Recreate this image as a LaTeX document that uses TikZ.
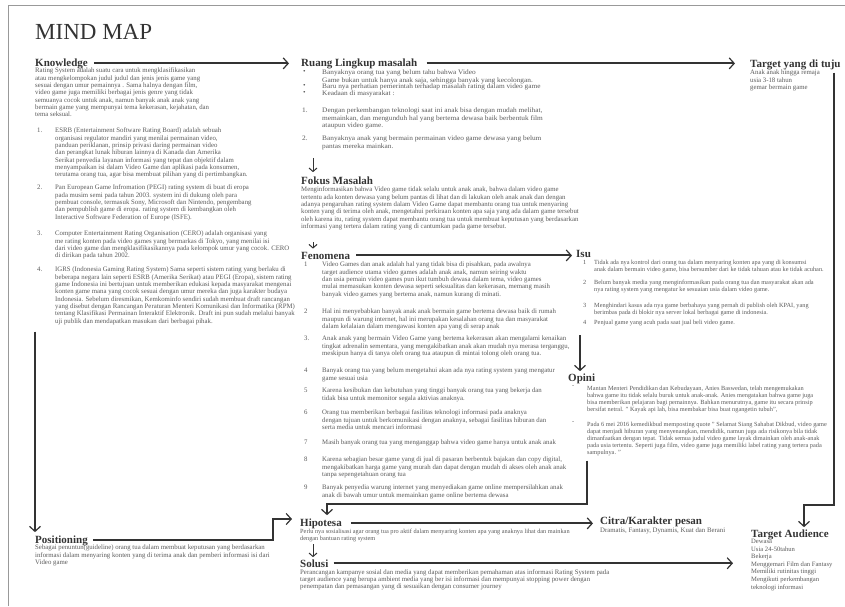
\documentclass[tikz,border=0pt]{standalone}
\usepackage{fontspec}
\setmainfont{Liberation Serif}
\newfontfamily\widebody[FakeStretch=1.08]{Liberation Serif}
\usepackage{tikz}
\usetikzlibrary{arrows.meta}
\definecolor{inkgray}{rgb}{0.2,0.2,0.2}
\definecolor{textgray}{rgb}{0.35,0.35,0.35}
\definecolor{framegray}{rgb}{0.6,0.6,0.6}
\tikzset{
    heading/.style={anchor=base west, inner sep=0pt, text=inkgray,
        font=\bfseries\fontsize{11}{12}\selectfont},
    bodytext/.style={anchor=north west, inner sep=0pt, align=left, text=textgray,
        font=\fontsize{6.8}{7.3}\selectfont},
    numtext/.style={anchor=north west, inner sep=0pt, text=textgray,
        font=\fontsize{6.8}{7.3}\selectfont},
    widetext/.style={font=\widebody\fontsize{6.8}{7.2}\selectfont},
    narrowtext/.style={font=\fontsize{6.3}{7.1}\selectfont},
    flow/.style={draw=inkgray, line width=2pt,
        -{Straight Barb[length=5pt,width=11pt,line width=1.2pt]}},
    thinflow/.style={draw=inkgray, line width=1pt,
        -{Straight Barb[length=3.5pt,width=8pt]}}
}
% one numbered (or bulleted) entry: [style], name, x of number, x of text, y, number, text
\newcommand{\mmitem}[7][]{
    \node[numtext,#1] at (#3,#5) {#6};
    \node[bodytext,#1] (#2) at (#4,#5) {#7};
}

\begin{document}
\begin{tikzpicture}[x=1pt,y=-1pt]
    \useasboundingbox (0,0) rectangle (845,606);
    % page frame
    \draw[framegray, line width=0.8pt] (8,606) -- (8,5) -- (845,5);

    \node[anchor=base west, inner sep=0pt, text=inkgray, font=\fontsize{23}{26}\selectfont]
        (title) at (35,39) {MIND MAP};

    % Knowledge
    \node[heading] (kn) at (35,66) {Knowledge};
    \node[bodytext] (knpara) at (35,68) {Rating System adalah suatu cara untuk mengklasifikasikan\\
        atau mengkelompokan judul judul dan jenis jenis game yang\\
        sesuai dengan umur pemainnya . Sama halnya dengan film,\\
        video game juga memiliki berbagai jenis genre yang tidak\\
        semuanya cocok untuk anak, namun banyak anak anak yang\\
        bermain game yang mempunyai tema kekerasan, kejahatan, dan\\
        tema seksual.};
    \mmitem{k1}{37}{55}{128}{1.}{ESRB (Entertainment Software Rating Board) adalah sebuah\\
        organisasi regulator mandiri yang menilai permainan video,\\
        panduan periklanan, prinsip privasi daring permainan video\\
        dan perangkat lunak hiburan lainnya di Kanada dan Amerika\\
        Serikat penyedia layanan informasi yang tepat dan objektif dalam\\
        menyampaikan isi dalam Video Game dan aplikasi pada konsumen,\\
        terutama orang tua, agar bisa membuat pilihan yang di pertimbangkan.}
    \mmitem{k2}{37}{55}{185}{2.}{Pan European Game Infromation (PEGI) rating system di buat di eropa\\
        pada musim semi pada tahun 2003. system ini di dukung oleh para\\
        pembuat console, termasuk Sony, Microsoft dan Nintendo, pengembang\\
        dan pempublish game di eropa. rating system di kembangkan oleh\\
        Interactive Software Federation of Europe (ISFE).}
    \mmitem{k3}{37}{55}{231}{3.}{Computer Entertainment Rating Organisation (CERO) adalah organisasi yang\\
        me rating konten pada video games yang bermarkas di Tokyo, yang menilai isi\\
        dari video game dan mengklasifikasikannya pada kelompok umur yang cocok. CERO\\
        di dirikan pada tahun 2002.}
    \mmitem{k4}{37}{55}{267}{4.}{IGRS (Indonesia Gaming Rating System) Sama seperti sistem rating yang berlaku di\\
        beberapa negara lain seperti ESRB (Amerika Serikat) atau PEGI (Eropa), sistem rating\\
        game Indonesia ini bertujuan untuk memberikan edukasi kepada masyarakat mengenai\\
        konten game mana yang cocok sesuai dengan umur mereka dan juga karakter budaya\\
        Indonesia. Sebelum diresmikan, Kemkominfo sendiri sudah membuat draft rancangan\\
        yang disebut dengan Rancangan Peraturan Menteri Komunikasi dan Informatika (RPM)\\
        tentang Klasifikasi Permainan Interaktif Elektronik. Draft ini pun sudah melalui banyak\\
        uji publik dan mendapatkan masukan dari berbagai pihak.}

    % Positioning
    \node[heading] (pos) at (35,543) {Positioning};
    \node[bodytext] (pospara) at (35,545) {Sebagai penuntun(guideline) orang tua dalam membuat keputusan yang berdasarkan\\
        informasi dalam menyaring konten yang di terima anak dan pemberi informasi isi dari\\
        Video game};

    % Ruang Lingkup masalah
    \node[heading] (ruang) at (301,66) {Ruang Lingkup masalah};
    \mmitem[widetext]{ru1}{303}{322}{70}{•}{Banyaknya orang tua yang belum tahu bahwa Video\\
        Game bukan untuk hanya anak saja, sehingga banyak yang kecolongan.}
    \mmitem[widetext]{ru2}{303}{322}{84}{•}{Baru nya perhatian pemerintah terhadap masalah rating dalam video game}
    \mmitem[widetext]{ru3}{303}{322}{91}{•}{Keadaan di masyarakat :}
    \mmitem[widetext]{ru4}{302}{322}{108}{1.}{Dengan perkembangan teknologi saat ini anak bisa dengan mudah melihat,\\
        memainkan, dan mengunduh hal yang bertema dewasa baik berbentuk film\\
        ataupun video game.}
    \mmitem[widetext]{ru5}{302}{322}{136}{2.}{Banyaknya anak yang bermain permainan video game dewasa yang belum\\
        pantas mereka mainkan.}

    % Fokus Masalah
    \node[heading] (fokus) at (301,184) {Fokus Masalah};
    \node[bodytext] (fokpara) at (301,187) {Menginformasikan bahwa Video game tidak selalu untuk anak anak, bahwa dalam video game\\
        tertentu ada konten dewasa yang belum pantas di lihat dan di lakukan oleh anak anak dan dengan\\
        adanya pengaruhan rating system dalam Video Game dapat membantu orang tua untuk menyaring\\
        konten yang di terima oleh anak, mengetahui perkiraan konten apa saja yang ada dalam game tersebut\\
        oleh karena itu, rating system dapat membantu orang tua untuk membuat keputusan yang berdasarkan\\
        informasi yang tertera dalam rating yang di cantumkan pada game tersebut.};

    % Fenomena
    \node[heading] (fen) at (301,259) {Fenomena};
    \mmitem{f1}{304}{322}{262}{1}{Video Games dan anak adalah hal yang tidak bisa di pisahkan, pada awalnya\\
        target audience utama video games adalah anak anak, namun seiring waktu\\
        dan usia pemain video games pun ikut tumbuh dewasa dalam tema, video games\\
        mulai memasukan konten dewasa seperti seksualitas dan kekerasan, memang masih\\
        banyak video games yang bertema anak, namun kurang di minati.}
    \mmitem{f2}{304}{322}{309}{2}{Hal ini menyebabkan banyak anak anak bermain game bertema dewasa baik di rumah\\
        maupun di warung internet, hal ini merupakan kesalahan orang tua dan masyarakat\\
        dalam kelalaian dalam mengawasi konten apa yang di serap anak}
    \mmitem{f3}{304}{322}{336}{3.}{Anak anak yang bermain Video Game yang bertema kekerasan akan mengalami kenaikan\\
        tingkat adrenalin sementara, yang mengakibatkan anak akan mudah nya merasa terganggu,\\
        meskipun hanya di tanya oleh orang tua ataupun di mintai tolong oleh orang tua.}
    \mmitem{f4}{304}{322}{368}{4}{Banyak orang tua yang belum mengetahui akan ada nya rating system yang mengatur\\
        game sesuai usia}
    \mmitem{f5}{304}{322}{388}{5}{Karena kesibukan dan kebutuhan yang tinggi banyak orang tua yang bekerja dan\\
        tidak bisa untuk memonitor segala aktivias anaknya.}
    \mmitem{f6}{304}{322}{410}{6}{Orang tua memberikan berbagai fasilitas teknologi informasi pada anaknya\\
        dengan tujuan untuk berkomunikasi dengan anaknya, sebagai fasilitas hiburan dan\\
        serta media untuk mencari informasi}
    \mmitem{f7}{304}{322}{440}{7}{Masih banyak orang tua yang menganggap bahwa video game hanya untuk anak anak}
    \mmitem{f8}{304}{322}{457}{8}{Karena sebagian besar game yang di jual di pasaran berbentuk bajakan dan copy digital,\\
        mengakibatkan harga game yang murah dan dapat dengan mudah di akses oleh anak anak\\
        tanpa sepengetahuan orang tua}
    \mmitem{f9}{304}{322}{485}{9}{Banyak penyedia warung internet yang menyediakan game online mempersilahkan anak\\
        anak di bawah umur untuk memainkan game online bertema dewasa}

    % Hipotesa and Solusi
    \node[heading] (hip) at (300,526) {Hipotesa};
    \node[bodytext,narrowtext] (hippara) at (300,529) {Perlu nya sosialisasi agar orang tua pro aktif dalam menyaring konten apa yang anaknya lihat dan mainkan\\
        dengan bantuan rating system};
    \node[heading] (sol) at (300,567) {Solusi};
    \node[bodytext] (solpara) at (300,569) {Perancangan kampanye sosial dan media yang dapat memberikan pemahaman atas informasi Rating System pada\\
        target audience yang berupa ambient media yang ber isi informasi dan mempunyai stopping power dengan\\
        penempatan dan pemasangan yang di sesuaikan dengan consumer journey};

    % Target yang di tuju
    \node[heading] (tgt) at (750,67) {Target yang di tuju};
    \node[bodytext] (tgtpara) at (750,70) {Anak anak hingga remaja\\
        usia 3-18 tahun\\
        gemar bermain game};

    % Isu
    \node[heading] (isu) at (576,257) {Isu};
    \mmitem[narrowtext]{i1}{583}{594}{260}{1}{Tidak ada nya kontrol dari orang tua dalam menyaring konten apa yang di konsumsi\\
        anak dalam bermain video game, bisa bersumber dari ke tidak tahuan atau ke tidak acuhan.}
    \mmitem[narrowtext]{i2}{583}{594}{280}{2}{Belum banyak media yang menginformasikan pada orang tua dan masyarakat akan ada\\
        nya rating system yang mengatur ke sesuaian usia dalam video game.}
    \mmitem[narrowtext]{i3}{583}{594}{303}{3}{Menghindari kasus ada nya game berbahaya yang pernah di publish oleh KPAI, yang\\
        berimbas pada di blokir nya server lokal berbagai game di indonesia.}
    \mmitem[narrowtext]{i4}{583}{594}{320}{4}{Penjual game yang acuh pada saat jual beli video game.}

    % Opini
    \node[heading] (op) at (568,381) {Opini};
    \mmitem[narrowtext]{op1}{572}{587}{386}{-}{Mantan Menteri Pendidikan dan Kebudayaan, Anies Baswedan, telah mengemukakan\\
        bahwa game itu tidak selalu buruk untuk anak-anak. Anies mengatakan bahwa game juga\\
        bisa memberikan pelajaran bagi pemainnya. Bahkan menurutnya, game itu secara prinsip\\
        bersifat netral. " Kayak api lah, bisa membakar bisa buat ngangetin tubuh",}
    \mmitem[narrowtext]{op2}{572}{587}{422}{-}{Pada 6 mei 2016 kemedikbud memposting quote " Selamat Siang Sahabat Dikbud, video game\\
        dapat menjadi hiburan yang menyenangkan, mendidik, namun juga ada risikonya bila tidak\\
        dimanfaatkan dengan tepat. Tidak semua judul video game layak dimainkan oleh anak-anak\\
        pada usia tertentu. Seperti juga film, video game juga memiliki label rating yang tertera pada\\
        sampulnya. "}

    % Citra and Target Audience
    \node[heading] (citra) at (600,524) {Citra/Karakter pesan};
    \node[bodytext] (citrapara) at (600,528) {Dramatis, Fantasy, Dynamis, Kuat dan Berani};
    \node[heading] (ta) at (751,537) {Target Audience};
    \node[bodytext, font=\fontsize{6.6}{7.6}\selectfont] (tabody) at (751,539) {Dewasa\\
        Usia 24-50tahun\\
        Bekerja\\
        Menggemari Film dan Fantasy\\
        Memiliki rutinitas tinggi\\
        Mengikuti perkembangan\\
        teknologi informasi};

    % turning points of the connectors
    \coordinate (midcol) at (313,0);
    \coordinate (isudrop) at (580,0);
    \coordinate (posturn) at (273,519);
    \coordinate (tgtturn) at (834,505);
    \coordinate (tadrop) at (804,505);
    \coordinate (opturn) at (587,504);
    \coordinate (hipdrop) at (327,504);

    % long connectors
    \draw[flow, shorten <=6pt, shorten >=12pt] (kn.east) -- (kn.east -| ruang.west);
    \draw[flow, shorten <=9pt, shorten >=15pt] (ruang.east) -- (ruang.east -| tgt.west);
    \draw[flow, shorten <=6pt, shorten >=4pt] (fen.east) -- (fen.east -| isu.west);
    \draw[flow, shorten <=9pt, shorten >=7pt] (hip.east) -- (hip.east -| citra.west);
    \draw[flow, shorten <=5pt, shorten >=18pt] (sol.east) -- (sol.east -| tabody.west);
    \draw[flow, shorten <=5pt, shorten >=8pt] (pos.east) -| (posturn) -- (posturn -| hip.west);
    \draw[flow, shorten <=7pt, shorten >=3pt] (k4.south -| pos.west) -- (pos.north west);
    \draw[flow, shorten <=3pt, shorten >=2pt] (tgt.south -| tgtturn) -- (tgtturn) -- (tadrop) -- (tadrop |- ta.north);
    \draw[flow, shorten <=4pt, shorten >=3pt] (op2.south -| opturn) -- (opturn) -- (hipdrop) -- (hipdrop |- hip.north);
    \draw[flow, shorten <=9pt, shorten >=2pt] (i4.south -| isudrop) -- (op.north -| isudrop);

    % short steps down the middle column
    \draw[thinflow, shorten <=8pt, shorten >=4pt] (ru5.south -| midcol) -- (fokus.north -| midcol);
    \draw[thinflow, shorten <=12pt, shorten >=3pt] (fokpara.south -| midcol) -- (fen.north -| midcol);
    \draw[thinflow, shorten <=2pt, shorten >=2pt] (hippara.south -| midcol) -- (sol.north -| midcol);
\end{tikzpicture}
\end{document}
